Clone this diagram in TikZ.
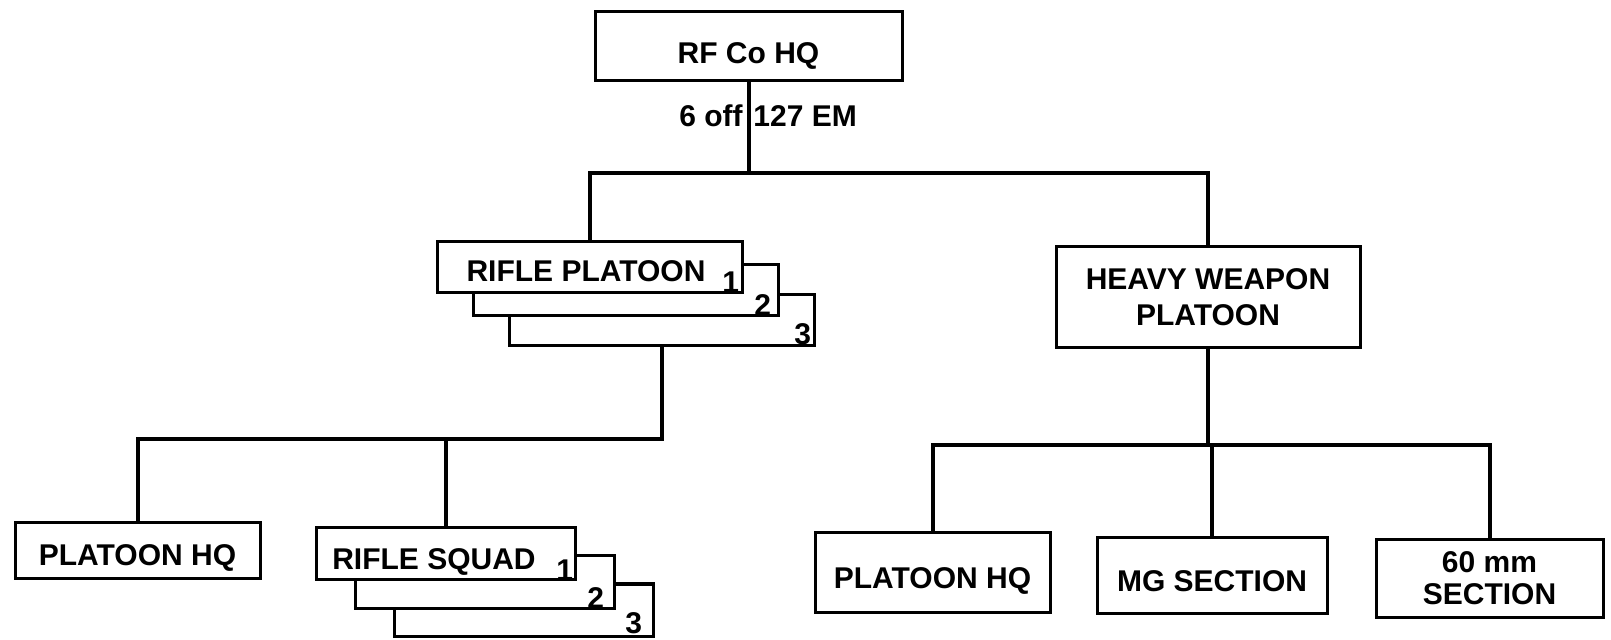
\documentclass[tikz,border=0pt]{standalone}
\usepackage{fontspec}
\setmainfont{Liberation Sans}
\begin{document}
\begin{tikzpicture}[x=0.5pt,y=-0.5pt,
  every node/.style={font=\fontsize{15}{18}\selectfont\bfseries},
  box0/.style={draw,line width=1.5pt,fill=white,inner sep=0pt},
  box/.style={box0,text height=14.5pt,text depth=0pt},
  conn/.style={line width=2pt},
  num/.style={anchor=base east,inner sep=0pt}]
\useasboundingbox (0,0) rectangle (1611,640);

% top
\node[box,minimum width=153.5pt,minimum height=34.5pt,text height=17.2pt] (hq) at (748.5,46.5) {RF Co HQ};
\node[anchor=base east,inner sep=0pt] (offl) at (743,127) {6 off};
\node[anchor=base west,inner sep=0pt] (eml) at (753,127) {127 EM};

% rifle platoon stack
\node[box,minimum width=152.5pt,minimum height=25.5pt] (rp3) at (661.5,320.5) {};
\node[box,minimum width=152.5pt,minimum height=25.5pt] (rp2) at (625.5,290.5) {};
\node[box,minimum width=152.5pt,minimum height=25.5pt,text height=14.1pt] (rp1) at (589.5,267.5) {RIFLE PLATOON\hspace*{3.5pt}};
\node[num] (rp1n) at ([xshift=-2pt,yshift=1pt]rp1.south east) {1};
\node[num] (rp2n) at ([xshift=-4pt,yshift=1pt]rp2.south east) {2};
\node[num] (rp3n) at ([xshift=-2pt,yshift=1.5pt]rp3.south east) {3};

% heavy weapon platoon
\node[box0,align=center,minimum width=152pt,minimum height=50.5pt] (hw) at (1208,297.5) {HEAVY WEAPON\\PLATOON};

% lower left
\node[box,minimum width=122.5pt,minimum height=28pt,text height=14.7pt] (phq) at (137.5,551) {PLATOON HQ};
\node[box,minimum width=129.5pt,minimum height=26pt] (rs3) at (523.5,610) {};
\node[box,minimum width=129.5pt,minimum height=26pt] (rs2) at (484.5,582) {};
\node[box,minimum width=129.5pt,minimum height=26pt,text height=15.7pt] (rs1) at (445.5,554) {RIFLE SQUAD\hspace*{11.5pt}};
\node[num] (rs1n) at ([xshift=-1.5pt,yshift=0.5pt]rs1.south east) {1};
\node[num] (rs2n) at ([xshift=-5.5pt,yshift=0.5pt]rs2.south east) {2};
\node[num] (rs3n) at ([xshift=-6pt,yshift=2pt]rs3.south east) {3};

% lower right
\node[box,minimum width=117.5pt,minimum height=39.5pt,text height=16.2pt] (phq2) at (932.5,572.5) {PLATOON HQ};
\node[box,minimum width=115pt,minimum height=37.5pt,text height=16.2pt] (mg) at (1212,575.5) {MG SECTION};
\node[box0,align=center,minimum width=113.5pt,minimum height=38.5pt] (sixty) at (1489.5,578.5) {60 mm\\[-2pt]SECTION};

% connectors
\coordinate (bus1) at (0,173);
\coordinate (bus2) at (0,439);
\coordinate (bus3) at (0,445);
\draw[conn] (hq.south) -- (hq.south |- bus1);
\draw[conn] (rp1.north) -- (rp1.north |- bus1) -- (hw.north |- bus1) -- (hw.north);
\draw[conn] (rp3.south) -- (rp3.south |- bus2) -- (phq.north |- bus2) -- (phq.north);
\draw[conn] (rs1.north) -- (rs1.north |- bus2);
\draw[conn] (hw.south) -- (hw.south |- bus3);
\draw[conn] (phq2.north) -- (phq2.north |- bus3) -- (sixty.north |- bus3) -- (sixty.north);
\draw[conn] (mg.north) -- (mg.north |- bus3);
\end{tikzpicture}
\end{document}
